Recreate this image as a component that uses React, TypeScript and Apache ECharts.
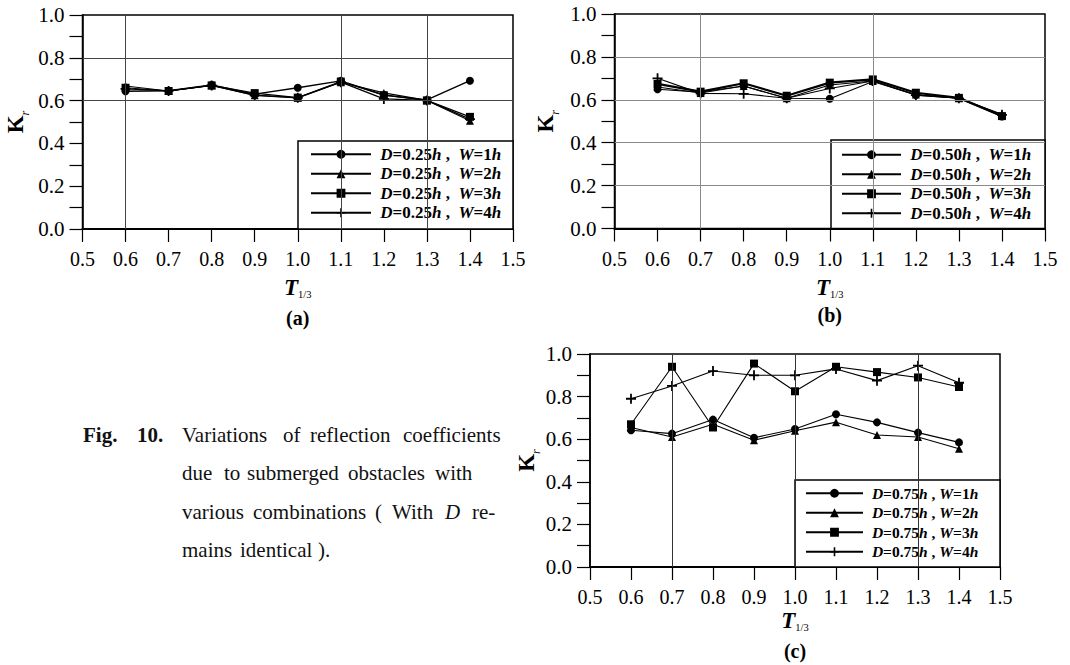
import React, { useEffect, useRef } from 'react';
import * as echarts from 'echarts';

// ---------------- data ----------------
const periods = [0.6, 0.7, 0.8, 0.9, 1.0, 1.1, 1.2, 1.3, 1.4];
const widthLabels = ['1', '2', '3', '4'];
const depthLabels = ['0.25', '0.50', '0.75'];
const panelLabels = ['(a)', '(b)', '(c)'];

const krA_W1 = [0.644, 0.646, 0.673, 0.630, 0.660, 0.692, 0.626, 0.603, 0.693];
const krA_W2 = [0.668, 0.645, 0.671, 0.625, 0.613, 0.686, 0.636, 0.601, 0.506];
const krA_W3 = [0.660, 0.645, 0.671, 0.635, 0.614, 0.689, 0.625, 0.601, 0.524];
const krA_W4 = [0.655, 0.645, 0.671, 0.625, 0.613, 0.686, 0.608, 0.601, 0.513];

const krB_W1 = [0.649, 0.636, 0.664, 0.607, 0.605, 0.685, 0.622, 0.607, 0.522];
const krB_W2 = [0.660, 0.632, 0.664, 0.607, 0.669, 0.688, 0.625, 0.607, 0.532];
const krB_W3 = [0.674, 0.638, 0.677, 0.619, 0.680, 0.695, 0.633, 0.609, 0.524];
const krB_W4 = [0.700, 0.630, 0.628, 0.607, 0.653, 0.688, 0.622, 0.607, 0.530];

const krC_W1 = [0.642, 0.626, 0.692, 0.607, 0.648, 0.717, 0.679, 0.631, 0.585];
const krC_W2 = [0.655, 0.610, 0.670, 0.595, 0.640, 0.680, 0.620, 0.610, 0.555];
const krC_W3 = [0.670, 0.940, 0.655, 0.955, 0.825, 0.940, 0.915, 0.890, 0.845];
const krC_W4 = [0.790, 0.850, 0.920, 0.900, 0.900, 0.930, 0.875, 0.945, 0.865];

const panelSeries = [
  [krA_W1, krA_W2, krA_W3, krA_W4],
  [krB_W1, krB_W2, krB_W3, krB_W4],
  [krC_W1, krC_W2, krC_W3, krC_W4],
];

// reference lines drawn in each panel (axis values)
const vGridLines = [[0.6, 1.1, 1.3], [0.7, 1.1], [0.7, 1.0, 1.3]];
const hGridLines = [[0.6, 0.8], [0.2, 0.4, 0.6, 0.8], []];

const xMin = 0.5, xMax = 1.5, xStep = 0.1;
const yMin = 0, yMax = 1, yStep = 0.2;

// ---------------- layout / style ----------------
const FONT = "'Liberation Serif', 'Times New Roman', serif";
const PLUS = 'path://M4.1,0H5.9V4.1H10V5.9H5.9V10H4.1V5.9H0V4.1H4.1Z';
const SYMBOLS = ['circle', 'triangle', 'rect', PLUS];
const SYMBOL_SIZES = [8, 8, 8, 10];

const GRIDS = [
  { left: 82.5, top: 15, width: 430.5, height: 214 },
  { left: 614.5, top: 14, width: 430.5, height: 214.5 },
  { left: 590, top: 354, width: 410, height: 213 },
];
const LINE_WIDTHS = [
  [1.4, 1.1, 1.1, 1.3],
  [1.1, 1.1, 2.2, 1.1],
  [1.1, 1.1, 1.1, 1.1],
];
const GRIDLINE_COLORS = ['#444', '#8a8a8a', '#333'];
const LEGEND_BOX = [
  { x: 298, y: 141, w: 215, h: 88 },
  { x: 831, y: 140, w: 214, h: 88.5 },
  { x: 795, y: 480, w: 205, h: 87 },
];
const LEGEND_POS = [
  { left: 310, top: 144.5, itemWidth: 60, fontSize: 17, sep: ' ,  ' },
  { left: 841, top: 145, itemWidth: 59, fontSize: 17, sep: ' ,  ' },
  { left: 805, top: 483.5, itemWidth: 57, fontSize: 15.5, sep: ' , ' },
];
const X_NAME_GAP = [46, 46, 41];
const Y_NAME_GAP = [52, 54, 48];
const PANEL_LABEL_Y = [318, 315, 651];

const CAPTION: { y: number; words: [string, number, string?][] }[] = [
  { y: 435, words: [['Fig.', 83, 'b'], ['10.', 137, 'b'], ['Variations', 182], ['of', 283], ['reflection', 310], ['coefficients', 403]] },
  { y: 473, words: [['due', 182], ['to', 224], ['submerged', 247], ['obstacles', 348], ['with', 435]] },
  { y: 512, words: [['various', 182], ['combinations', 253], ['(', 375], ['With', 392], ['D', 445, 'i'], ['re-', 472]] },
  { y: 550, words: [['mains', 182], ['identical', 240], [').', 318]] },
];

const seriesName = (p: number, w: number) => `D=${depthLabels[p]}h , W=${widthLabels[w]}h`;

function buildOption() {
  const series: any[] = [];
  const legends: any[] = [];
  const graphics: any[] = [];

  GRIDS.forEach((g, p) => {
    panelSeries[p].forEach((vals, w) => {
      const s: any = {
        type: 'line',
        name: seriesName(p, w),
        xAxisIndex: p,
        yAxisIndex: p,
        data: periods.map((t, k) => [t, vals[k]]),
        symbol: SYMBOLS[w],
        symbolSize: SYMBOL_SIZES[w],
        showSymbol: true,
        lineStyle: { color: '#000', width: LINE_WIDTHS[p][w] },
        itemStyle: { color: '#000' },
        z: 2,
      };
      if (w === 0) {
        s.markLine = {
          silent: true,
          symbol: ['none', 'none'],
          label: { show: false },
          lineStyle: { type: 'solid', color: GRIDLINE_COLORS[p], width: 1 },
          animation: false,
          data: [
            ...vGridLines[p].map((v) => ({ xAxis: v })),
            ...hGridLines[p].map((v) => ({ yAxis: v })),
          ],
        };
      }
      series.push(s);
    });

    const lp = LEGEND_POS[p];
    const fs = lp.fontSize;
    legends.push({
      data: widthLabels.map((_, w) => seriesName(p, w)),
      orient: 'vertical',
      left: lp.left,
      top: lp.top,
      padding: 0,
      itemGap: 0,
      itemWidth: lp.itemWidth,
      itemHeight: 11,
      selectedMode: false,
      z: 5,
      textStyle: {
        fontFamily: FONT,
        fontSize: fs,
        color: '#000',
        lineHeight: 19.5,
        rich: {
          i: { fontFamily: FONT, fontSize: fs, fontStyle: 'italic', fontWeight: 'bold', lineHeight: 19.5, color: '#000' },
          n: { fontFamily: FONT, fontSize: fs, fontWeight: 'bold', lineHeight: 19.5, color: '#000' },
        },
      },
      formatter: (name: string) => {
        const m = name.match(/D=(.+)h , W=(.+)h/);
        if (!m) return name;
        return `{i| D}{n|=${m[1]}}{i|h}{n|${lp.sep}}{i|W}{n|=${m[2]}}{i|h}`;
      },
    });

    const b = LEGEND_BOX[p];
    graphics.push({
      type: 'rect',
      z: 3,
      shape: { x: b.x, y: b.y, width: b.w, height: b.h },
      style: { fill: '#fff', stroke: '#000', lineWidth: 1.5 },
    });
    graphics.push({
      type: 'text',
      z: 3,
      x: g.left + g.width / 2,
      y: PANEL_LABEL_Y[p],
      style: {
        text: panelLabels[p],
        fontFamily: FONT,
        fontSize: 20,
        fontWeight: 'bold',
        fill: '#000',
        align: 'center',
        verticalAlign: 'middle',
        textAlign: 'center',
        textVerticalAlign: 'middle',
      },
    });
  });

  CAPTION.forEach((line) => {
    line.words.forEach(([word, x, kind]) => {
      graphics.push({
        type: 'text',
        z: 3,
        x,
        y: line.y,
        style: {
          text: word,
          fontFamily: FONT,
          fontSize: 21,
          fontWeight: kind === 'b' ? 'bold' : 'normal',
          fontStyle: kind === 'i' ? 'italic' : 'normal',
          fill: '#111',
          align: 'left',
          verticalAlign: 'middle',
          textAlign: 'left',
          textVerticalAlign: 'middle',
        },
      });
    });
  });

  const xAxis = GRIDS.map((_, p) => ({
    type: 'value',
    gridIndex: p,
    min: xMin,
    max: xMax,
    interval: xStep,
    axisLine: { show: true, onZero: false, lineStyle: { color: '#000', width: 2 } },
    axisTick: { show: true, length: 13, lineStyle: { color: '#000', width: 1.2 } },
    axisLabel: {
      margin: 20,
      fontFamily: FONT,
      fontSize: 20,
      color: '#000',
      formatter: (v: number) => v.toFixed(1),
    },
    splitLine: { show: false },
    name: '{t|T}{s|1/3}',
    nameLocation: 'middle',
    nameGap: X_NAME_GAP[p],
    nameTextStyle: {
      rich: {
        t: { fontFamily: FONT, fontSize: 23, fontStyle: 'italic', fontWeight: 'bold', color: '#000', lineHeight: 22, verticalAlign: 'middle' },
        s: { fontFamily: FONT, fontSize: 10.5, color: '#000', lineHeight: 25, verticalAlign: 'bottom' },
      },
    },
  }));

  const yAxis = GRIDS.map((_, p) => ({
    type: 'value',
    gridIndex: p,
    min: yMin,
    max: yMax,
    interval: yStep,
    axisLine: { show: true, onZero: false, lineStyle: { color: '#000', width: 1.5 } },
    axisTick: { show: true, length: 13, lineStyle: { color: '#000', width: 1.2 } },
    minorTick: { show: true, splitNumber: 2, length: 13, lineStyle: { color: '#000', width: 1.2 } },
    axisLabel: {
      margin: 18,
      fontFamily: FONT,
      fontSize: 21,
      color: '#000',
      formatter: (v: number) => v.toFixed(1),
    },
    splitLine: { show: false },
    name: '{k|K}{r|r}',
    nameLocation: 'middle',
    nameRotate: 90,
    nameGap: Y_NAME_GAP[p],
    nameTextStyle: {
      rich: {
        k: { fontFamily: FONT, fontSize: 23, fontWeight: 'bold', color: '#000', lineHeight: 30, verticalAlign: 'middle' },
        r: { fontFamily: FONT, fontSize: 12, fontStyle: 'italic', color: '#000', lineHeight: 30, verticalAlign: 'bottom' },
      },
    },
  }));

  return {
    animation: false,
    backgroundColor: '#fff',
    textStyle: { fontFamily: FONT },
    grid: GRIDS.map((g) => ({
      ...g,
      show: true,
      borderColor: '#000',
      borderWidth: 1.5,
      backgroundColor: 'transparent',
    })),
    xAxis,
    yAxis,
    legend: legends,
    series,
    graphic: { elements: graphics },
  };
}

export default function App() {
  const ref = useRef<HTMLDivElement>(null);
  useEffect(() => {
    if (!ref.current) return;
    const chart = echarts.init(ref.current, undefined, { renderer: 'svg' });
    chart.setOption(buildOption() as any);
    return () => chart.dispose();
  }, []);
  return (
    <div
      ref={ref}
      style={{ position: 'absolute', left: 0, top: 0, width: 1070, height: 665, background: '#fff' }}
    />
  );
}
